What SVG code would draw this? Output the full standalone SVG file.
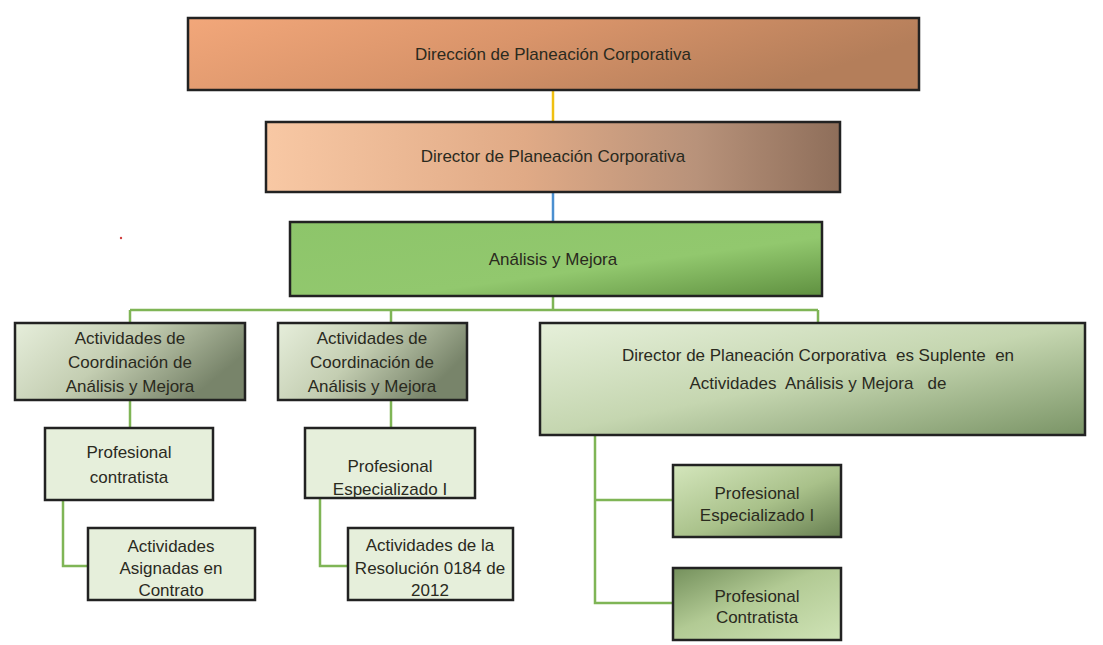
<svg xmlns="http://www.w3.org/2000/svg" width="1103" height="645" viewBox="0 0 1103 645">
<defs>
<linearGradient id="gOr1" x1="0" y1="0" x2="1" y2="0.3"><stop offset="0" stop-color="#f2a77a"/><stop offset="0.5" stop-color="#d9946a"/><stop offset="1" stop-color="#b47e5a"/></linearGradient>
<linearGradient id="gOr2" x1="0" y1="0" x2="1" y2="0"><stop offset="0" stop-color="#f8c8a4"/><stop offset="0.45" stop-color="#e0aa86"/><stop offset="0.75" stop-color="#b8927a"/><stop offset="1" stop-color="#8e6e5a"/></linearGradient>
<linearGradient id="gGr" x1="0" y1="0" x2="1" y2="1"><stop offset="0" stop-color="#8dc56a"/><stop offset="0.6" stop-color="#92c86e"/><stop offset="1" stop-color="#5f9040"/></linearGradient>
<linearGradient id="gGrey" x1="0" y1="0" x2="1" y2="0.4"><stop offset="0" stop-color="#e6eedb"/><stop offset="0.5" stop-color="#c4ceb2"/><stop offset="1" stop-color="#78846a"/></linearGradient>
<linearGradient id="gC" x1="0" y1="0" x2="1" y2="1"><stop offset="0" stop-color="#e6f0da"/><stop offset="0.5" stop-color="#c5d6b0"/><stop offset="1" stop-color="#7a9466"/></linearGradient>
<linearGradient id="gC1" x1="0" y1="0" x2="1" y2="1"><stop offset="0" stop-color="#d4e6bc"/><stop offset="0.55" stop-color="#a9c18a"/><stop offset="1" stop-color="#667e50"/></linearGradient>
<linearGradient id="gC2" x1="0" y1="0" x2="1" y2="1"><stop offset="0" stop-color="#74905c"/><stop offset="0.45" stop-color="#b2ca94"/><stop offset="1" stop-color="#cfe3b6"/></linearGradient>
</defs>
<style>
.b{stroke:#222;stroke-width:2.5}
.t{font-family:"Liberation Sans",Arial,sans-serif;font-size:17px;fill:#2a2a1e;text-anchor:middle;white-space:pre}
.c{fill:none;stroke:#7fb556;stroke-width:2.5}
.flat{fill:#e6efdb}
</style>
<rect width="1103" height="645" fill="#ffffff"/>
<g id="connectors">
<line x1="553" y1="90" x2="553" y2="122" stroke="#f0c010" stroke-width="2.5"/>
<line x1="553" y1="192" x2="553" y2="222" stroke="#4a8fd0" stroke-width="2.5"/>
<path class="c" d="M553 296V310M130 310H818M130 310V323M391 310V323M818 310V323"/>
<path class="c" d="M130 400V428M391 400V428"/>
<path class="c" d="M63 500V566H88M320 498V566H348"/>
<path class="c" d="M595 435V603H673M595 500H673"/>
</g>
<circle cx="121" cy="238" r="1.2" fill="#d04040"/>
<g id="n1"><rect class="b" x="188" y="18" width="731" height="72" fill="url(#gOr1)"/><text class="t" x="553" y="60">Dirección de Planeación Corporativa</text></g>
<g id="n2"><rect class="b" x="266" y="122" width="574" height="70" fill="url(#gOr2)"/><text class="t" x="553" y="162">Director de Planeación Corporativa</text></g>
<g id="n3"><rect class="b" x="290" y="222" width="532" height="74" fill="url(#gGr)"/><text class="t" x="553" y="265">Análisis y Mejora</text></g>
<g id="nA"><rect class="b" x="15" y="323" width="230" height="77" fill="url(#gGrey)"/><text class="t" x="130" y="344">Actividades de</text><text class="t" x="130" y="368">Coordinación de</text><text class="t" x="130" y="392">Análisis y Mejora</text></g>
<g id="nB"><rect class="b" x="278" y="323" width="189" height="77" fill="url(#gGrey)"/><text class="t" x="372" y="344">Actividades de</text><text class="t" x="372" y="368">Coordinación de</text><text class="t" x="372" y="392">Análisis y Mejora</text></g>
<g id="nC"><rect class="b" x="540" y="323" width="545" height="112" fill="url(#gC)"/><text class="t" x="818" y="361">Director de Planeación Corporativa  es Suplente  en</text><text class="t" x="818" y="389">Actividades  Análisis y Mejora   de</text></g>
<g id="nA2"><rect class="b flat" x="45" y="428" width="168" height="72"/><text class="t" x="129" y="458">Profesional</text><text class="t" x="129" y="483">contratista</text></g>
<g id="nB2"><rect class="b flat" x="305" y="428" width="170" height="70"/><text class="t" x="390" y="472">Profesional</text><text class="t" x="390" y="495">Especializado I</text></g>
<g id="nA3"><rect class="b flat" x="88" y="528" width="167" height="72"/><text class="t" x="171" y="552">Actividades</text><text class="t" x="171" y="574">Asignadas en</text><text class="t" x="171" y="596">Contrato</text></g>
<g id="nB3"><rect class="b flat" x="348" y="528" width="165" height="72"/><text class="t" x="430" y="551">Actividades de la</text><text class="t" x="430" y="574">Resolución 0184 de</text><text class="t" x="430" y="596">2012</text></g>
<g id="nC1"><rect class="b" x="673" y="465" width="168" height="72" fill="url(#gC1)"/><text class="t" x="757" y="499">Profesional</text><text class="t" x="757" y="521">Especializado I</text></g>
<g id="nC2"><rect class="b" x="673" y="568" width="168" height="72" fill="url(#gC2)"/><text class="t" x="757" y="602">Profesional</text><text class="t" x="757" y="623">Contratista</text></g>
</svg>
